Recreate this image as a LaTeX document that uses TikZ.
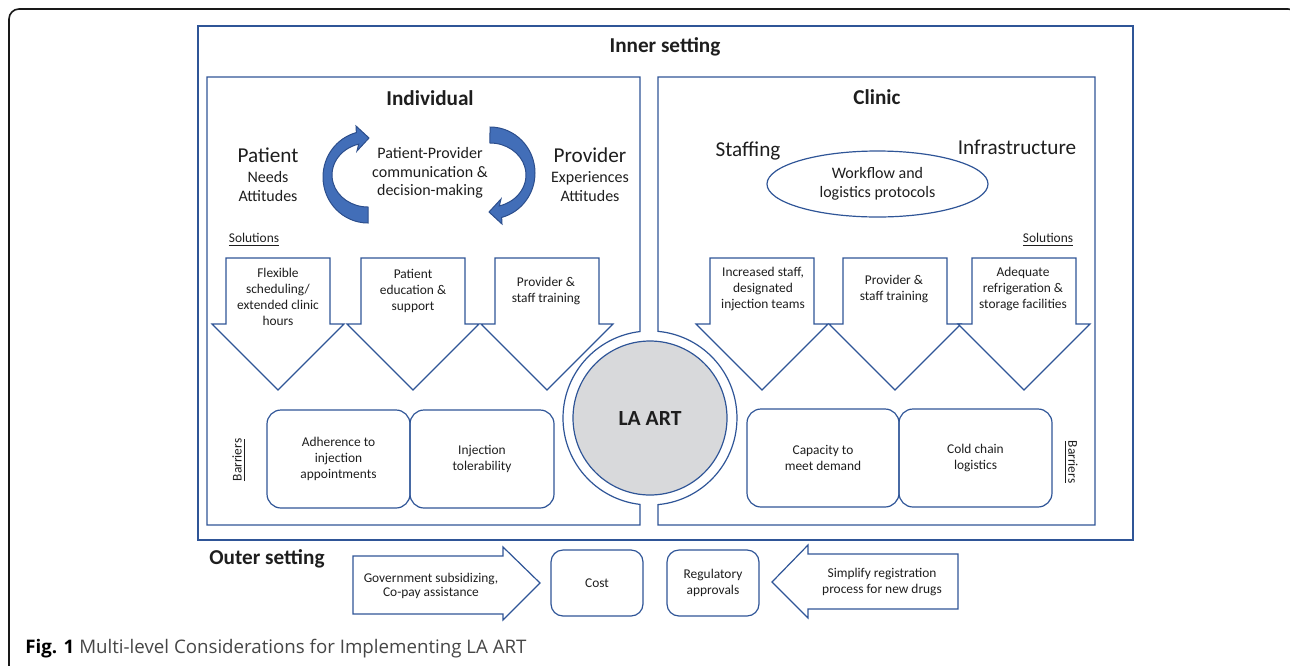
\documentclass[tikz,border=0pt]{standalone}
\usepackage{fontspec}
\setmainfont{Carlito}
\newfontfamily\capfont{Open Sans}
\usetikzlibrary{shapes.geometric}
\definecolor{lineblue}{RGB}{47,85,151}
\definecolor{arrowblue}{RGB}{66,110,184}
\definecolor{arrowedge}{RGB}{44,78,140}
\definecolor{artgray}{RGB}{216,217,219}
\definecolor{txt}{RGB}{30,30,30}
\definecolor{capgray}{RGB}{70,70,70}
\begin{document}
\begin{tikzpicture}[x=0.5pt, y=-0.5pt,
    every node/.style={text=txt, inner sep=0pt},
    panel/.style={draw=lineblue, line width=0.6pt},
    title/.style={font=\fontsize{10.6}{12}\selectfont\bfseries},
    actor/.style={font=\fontsize{10.6}{12}\selectfont},
    sub/.style={align=center, font=\fontsize{8}{9.4}\selectfont},
    small/.style={align=center, font=\fontsize{6.7}{8}\selectfont},
    barrier/.style={panel, rounded corners=7pt, minimum height=49pt, align=center, font=\fontsize{6.7}{7.9}\selectfont},
    curved/.style={fill=arrowblue, draw=arrowedge, line width=0.5pt}]
  \useasboundingbox (0,0) rectangle (1290,665);
  \clip (0,0) rectangle (1290,665);
  % figure frame and caption
  \draw [black!90, line width=0.8pt, rounded corners=5pt] (9,9) rectangle (1298,700);
  \node [anchor=base west, font=\capfont\fontsize{9.35}{11}\selectfont, text=capgray] (caption) at (25,653)
    {{\bfseries\color{black}Fig. 1} Multi-level Considerations for Implementing LA ART};
  % inner setting
  \coordinate (ctr) at (650,418);
  \draw [panel] (198,26) rectangle (1133,540);
  \node [title] (inner) at (665,47) {Inner setting};
  \draw [panel] (640,525) -- (640,504.4) arc [start angle=96.6, end angle=263.4, radius=87]
    -- (640,77) -- (207,77) -- (207,525) -- cycle;
  \draw [panel] (658,525) -- (658,504.6) arc [start angle=84.7, end angle=-84.7, radius=87]
    -- (658,77) -- (1095,77) -- (1095,525) -- cycle;
  \node [panel, circle, fill=artgray, minimum size=77pt, font=\fontsize{10.8}{12}\selectfont\bfseries] (laart) at (ctr) {LA ART};
  % individual
  \node [title] (indiv) at (430,98) {Individual};
  \node [actor] (patient) at (268,155) {Patient};
  \node [sub] (patneeds) at (268,186.5) {Needs\\Attitudes};
  \node [actor] (provider) at (590,155) {Provider};
  \node [sub] (provexp) at (590,186.5) {Experiences\\Attitudes};
  \node [sub] (comm) at (430,173) {Patient-Provider\\communication \&\\decision-making};
  \draw [curved] (368,223) arc [start angle=90, end angle=255, x radius=45, y radius=46] -- (356,126) -- (369,138)
    -- (357,151) -- (358.7,144.1) arc [start angle=255, end angle=90, x radius=36, y radius=32] -- cycle;
  \draw [curved] (490,127) arc [start angle=-90, end angle=75, x radius=45, y radius=46] -- (502,224) -- (489,212)
    -- (501,199) -- (499.3,205.9) arc [start angle=75, end angle=-90, x radius=36, y radius=32] -- cycle;
  % clinic
  \node [title] (clinic) at (877,97) {Clinic};
  \node [actor] (staffing) at (748,151) {Staffing};
  \node [actor] (infra) at (1017,147) {Infrastructure};
  \node [panel, ellipse, minimum width=110.5pt, minimum height=33pt, sub] (workflow) at (877.5,184) {Workflow and\\logistics protocols};
  % solutions
  \node [small] (solL) at (254,240) {\underline{Solutions}};
  \node [small] (solR) at (1048,240) {\underline{Solutions}};
  \foreach \cx in {278,413,547,762,895,1024}
    \draw [panel, fill=white] ({\cx-52},258) -- ({\cx+52},258) -- ({\cx+52},324) -- ({\cx+66},324)
      -- (\cx,390) -- ({\cx-66},324) -- ({\cx-52},324) -- cycle;
  \node [small] (flex) at (278,297) {Flexible\\scheduling/\\extended clinic\\hours};
  \node [small] (educ) at (413,291) {Patient\\education \&\\support};
  \node [small] (trainL) at (546,290.5) {Provider \&\\staff training};
  \node [small] (staff) at (763,289) {Increased staff,\\designated\\injection teams};
  \node [small] (trainR) at (894,289) {Provider \&\\staff training};
  \node [small] (fridge) at (1023,289) {Adequate\\refrigeration \&\\storage facilities};
  % barriers
  \node [small, rotate=90] (barL) at (239,460) {\underline{Barriers}};
  \node [small, rotate=-90] (barR) at (1071,462) {\underline{Barriers}};
  \node [barrier, minimum width=71.5pt] (adher) at (338.5,459) {Adherence to\\injection\\appointments};
  \node [barrier, minimum width=72pt] (toler) at (482,459) {Injection\\tolerability};
  \node [barrier, minimum width=76pt] (capac) at (823,458) {Capacity to\\meet demand};
  \node [barrier, minimum width=76.5pt] (cold) at (975.5,458) {Cold chain\\logistics};
  % outer setting
  \node [title] (outer) at (267,559) {Outer setting};
  \draw [panel] (353,556) -- (503,556) -- (503,547) -- (540,583) -- (503,620) -- (503,614) -- (353,614) -- cycle;
  \node [small, font=\fontsize{6.7}{7.3}\selectfont] (gov) at (431,586) {Government subsidizing,\\Co-pay assistance};
  \node [barrier, rounded corners=6pt, minimum width=46pt, minimum height=33pt] (cost) at (597,583) {Cost};
  \node [barrier, rounded corners=6pt, minimum width=46pt, minimum height=33pt] (regul) at (713,583) {Regulatory\\approvals};
  \draw [panel] (958,554) -- (808,554) -- (808,545) -- (772,582) -- (808,618) -- (808,609) -- (958,609) -- cycle;
  \node [small, font=\fontsize{6.7}{7.7}\selectfont] (simpl) at (882,582) {Simplify registration\\process for new drugs};
\end{tikzpicture}
\end{document}
